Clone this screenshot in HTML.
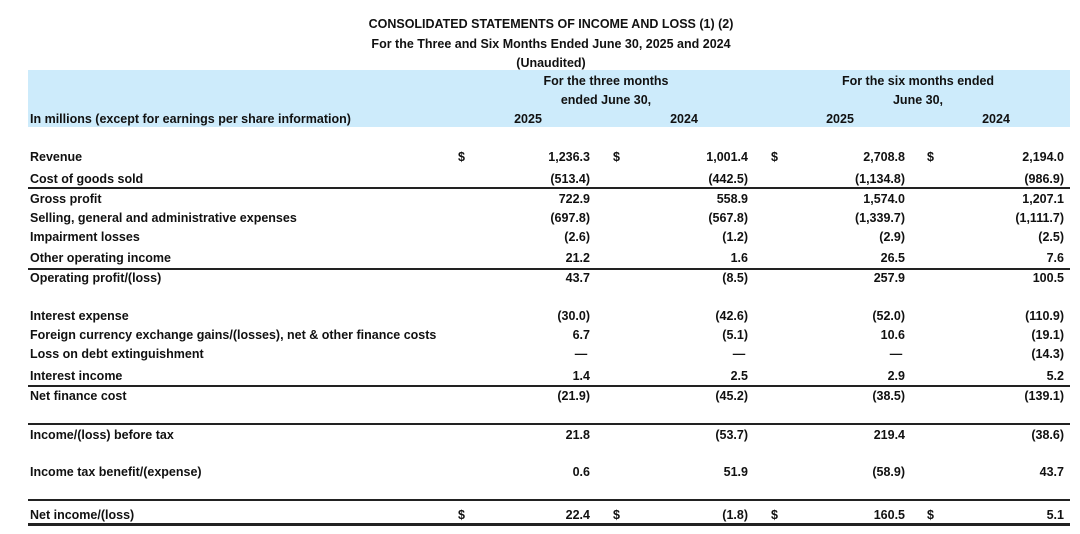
<!DOCTYPE html>
<html><head><meta charset="utf-8"><style>
body{margin:0;background:#fff;width:1080px;height:534px;position:relative;overflow:hidden;font-family:"Liberation Sans",sans-serif;font-weight:bold;font-size:12.5px;color:#111}
.t{position:absolute;white-space:nowrap;line-height:14px}
.c{transform:translateX(-50%)}
.r{transform:translateX(-100%)}
.band{position:absolute;left:28px;top:70px;width:1042px;height:57px;background:#cdebfb}
.hl{position:absolute;left:28px;width:1042px;height:1.5px;background:#222}
</style></head><body>
<div class="band"></div>
<div class="t c" style="left:551px;top:17px">CONSOLIDATED STATEMENTS OF INCOME AND LOSS (1) (2)</div>
<div class="t c" style="left:551px;top:37px">For the Three and Six Months Ended June 30, 2025 and 2024</div>
<div class="t c" style="left:551px;top:56px">(Unaudited)</div>
<div class="t c" style="left:606px;top:74px">For the three months</div>
<div class="t c" style="left:606px;top:93px">ended June 30,</div>
<div class="t c" style="left:918px;top:74px">For the six months ended</div>
<div class="t c" style="left:918px;top:93px">June 30,</div>
<div class="t" style="left:30px;top:112px">In millions (except for earnings per share information)</div>
<div class="t c" style="left:528px;top:112px">2025</div>
<div class="t c" style="left:684px;top:112px">2024</div>
<div class="t c" style="left:840px;top:112px">2025</div>
<div class="t c" style="left:996px;top:112px">2024</div>

<div class="hl" style="top:187px"></div>
<div class="hl" style="top:268px"></div>
<div class="hl" style="top:385px;height:2px"></div>
<div class="hl" style="top:423px;height:2px"></div>
<div class="hl" style="top:499px;height:2px"></div>
<div class="hl" style="top:523px;height:3px"></div>

<div id="rows"></div>
<script>
var rows=[
[150,"Revenue",["1,236.3","1,001.4","2,708.8","2,194.0"],1],
[172,"Cost of goods sold",["(513.4)","(442.5)","(1,134.8)","(986.9)"]],
[192,"Gross profit",["722.9","558.9","1,574.0","1,207.1"]],
[211,"Selling, general and administrative expenses",["(697.8)","(567.8)","(1,339.7)","(1,111.7)"]],
[230,"Impairment losses",["(2.6)","(1.2)","(2.9)","(2.5)"]],
[251,"Other operating income",["21.2","1.6","26.5","7.6"]],
[271,"Operating profit/(loss)",["43.7","(8.5)","257.9","100.5"]],
[309,"Interest expense",["(30.0)","(42.6)","(52.0)","(110.9)"]],
[328,"Foreign currency exchange gains/(losses), net &amp; other finance costs",["6.7","(5.1)","10.6","(19.1)"]],
[347,"Loss on debt extinguishment",["—","—","—","(14.3)"]],
[369,"Interest income",["1.4","2.5","2.9","5.2"]],
[389,"Net finance cost",["(21.9)","(45.2)","(38.5)","(139.1)"]],
[428,"Income/(loss) before tax",["21.8","(53.7)","219.4","(38.6)"]],
[465,"Income tax benefit/(expense)",["0.6","51.9","(58.9)","43.7"]],
[508,"Net income/(loss)",["22.4","(1.8)","160.5","5.1"],1]];
var R=[590,748,905,1064],D=[458,613,771,927];
var h="";
rows.forEach(function(r){
h+='<div class="t" style="left:30px;top:'+r[0]+'px">'+r[1]+'</div>';
r[2].forEach(function(v,i){
 if(v=="—")h+='<div class="t c" style="left:'+(R[i]-9)+'px;top:'+r[0]+'px">—</div>';
 else h+='<div class="t r" style="left:'+R[i]+'px;top:'+r[0]+'px">'+v+'</div>';
 if(r[3])h+='<div class="t" style="left:'+D[i]+'px;top:'+r[0]+'px">$</div>';
});
});
document.getElementById("rows").innerHTML=h;
</script>
</body></html>
